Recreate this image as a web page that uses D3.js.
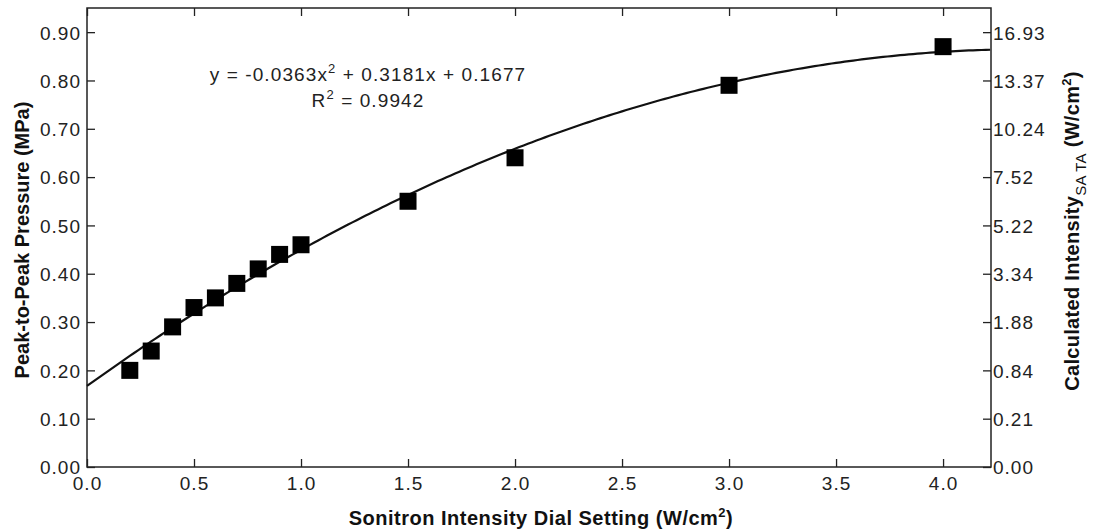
<!DOCTYPE html>
<html>
<head>
<meta charset="utf-8">
<script src="https://cdn.jsdelivr.net/npm/d3@7"></script>
<style>
  html, body { margin: 0; padding: 0; background: #fff; }
  svg { display: block; font-family: Arial, "Liberation Sans", sans-serif; }
</style>
</head>
<body>
<svg id="chart" width="1096" height="531"></svg>
<script>
// Measured peak-to-peak pressure against dial setting
const dialSetting = [0.2, 0.3, 0.4, 0.5, 0.6, 0.7, 0.8, 0.9, 1.0, 1.5, 2.0, 3.0, 4.0];
const pressure    = [0.20, 0.24, 0.29, 0.33, 0.35, 0.38, 0.41, 0.44, 0.46, 0.55, 0.64, 0.79, 0.87];

// Quadratic fit coefficients (a x^2 + b x + c) and goodness of fit
const fitCoeffs = [-0.0363, 0.3181, 0.1677];
const fitR2 = "0.9942";

// Axis ticks
const xTicks = [0.0, 0.5, 1.0, 1.5, 2.0, 2.5, 3.0, 3.5, 4.0];
const yTicks = [0.00, 0.10, 0.20, 0.30, 0.40, 0.50, 0.60, 0.70, 0.80, 0.90];
const intensityLabels = ["0.00", "0.21", "0.84", "1.88", "3.34", "5.22", "7.52", "10.24", "13.37", "16.93"];

const svg = d3.select("#chart");
const plot = { left: 87, right: 991, top: 8, bottom: 467 };

const x = d3.scaleLinear().domain([0, 4.224]).range([plot.left, plot.right]);
const y = d3.scaleLinear().domain([0, 0.95]).range([plot.bottom, plot.top]);

// Frame
svg.append("rect")
  .attr("x", plot.left).attr("y", plot.top)
  .attr("width", plot.right - plot.left).attr("height", plot.bottom - plot.top)
  .attr("fill", "none").attr("stroke", "#222").attr("stroke-width", 1.5);

const tickFont = 19;

// Bottom axis (ticks point inward)
const xAxis = svg.append("g").attr("transform", `translate(0,${plot.bottom})`)
  .call(d3.axisBottom(x).tickValues(xTicks).tickFormat(d3.format(".1f")).tickSizeInner(-8).tickSizeOuter(0).tickPadding(10));
// Top axis ticks only
const xTop = svg.append("g").attr("transform", `translate(0,${plot.top})`)
  .call(d3.axisTop(x).tickValues(xTicks).tickFormat("").tickSizeInner(-8).tickSizeOuter(0));
// Left axis
const yAxis = svg.append("g").attr("transform", `translate(${plot.left},0)`)
  .call(d3.axisLeft(y).tickValues(yTicks).tickFormat(d3.format(".2f")).tickSizeInner(-8).tickSizeOuter(0).tickPadding(6));
// Right axis: calculated intensity at the same pressure levels
const yRight = svg.append("g").attr("transform", `translate(${plot.right},0)`)
  .call(d3.axisRight(y).tickValues(yTicks).tickFormat((d, i) => intensityLabels[i]).tickSizeInner(-8).tickSizeOuter(0).tickPadding(2));

[xAxis, xTop, yAxis, yRight].forEach(g => {
  g.select(".domain").remove();
  g.selectAll(".tick line").attr("stroke", "#222").attr("stroke-width", 1.3);
  g.selectAll(".tick text").attr("font-size", tickFont).attr("fill", "#222")
    .attr("letter-spacing", 1)
    .attr("font-family", "Arial, 'Liberation Sans', sans-serif");
});
yAxis.selectAll(".tick text").attr("dy", "0.36em");
yRight.selectAll(".tick text").attr("dy", "0.36em");
xAxis.selectAll(".tick text").attr("dy", "0.71em");

// Fitted curve
const fit = v => fitCoeffs[0] * v * v + fitCoeffs[1] * v + fitCoeffs[2];
const xs = d3.range(0, 4.224 + 1e-9, 0.02);
svg.append("path")
  .datum(xs)
  .attr("d", d3.line().x(d => x(d)).y(d => y(fit(d))))
  .attr("fill", "none").attr("stroke", "#111").attr("stroke-width", 2.2);

// Data markers
const ms = 17;
svg.append("g").selectAll("rect")
  .data(dialSetting.map((d, i) => [d, pressure[i]]))
  .join("rect")
  .attr("x", d => x(d[0]) - ms / 2)
  .attr("y", d => y(d[1]) - ms / 2)
  .attr("width", ms).attr("height", ms)
  .attr("fill", "#000");

// Fit equation
const eq = svg.append("text").attr("x", 368).attr("y", 81)
  .attr("text-anchor", "middle").attr("font-size", 19).attr("letter-spacing", 1.1).attr("fill", "#222");
eq.append("tspan").text("y = -0.0363x");
eq.append("tspan").attr("dy", -8).attr("font-size", 13).text("2");
eq.append("tspan").attr("dy", 8).text(" + 0.3181x + 0.1677");

const r2 = svg.append("text").attr("x", 368).attr("y", 107)
  .attr("text-anchor", "middle").attr("font-size", 19).attr("letter-spacing", 1.1).attr("fill", "#222");
r2.append("tspan").text("R");
r2.append("tspan").attr("dy", -8).attr("font-size", 13).text("2");
r2.append("tspan").attr("dy", 8).text(" = " + fitR2);

// Axis titles
const xt = svg.append("text").attr("x", 541).attr("y", 525)
  .attr("text-anchor", "middle").attr("font-size", 20).attr("letter-spacing", 0.5)
  .attr("font-weight", "bold").attr("fill", "#111");
xt.append("tspan").text("Sonitron Intensity Dial Setting (W/cm");
xt.append("tspan").attr("dy", -8).attr("font-size", 13).text("2");
xt.append("tspan").attr("dy", 8).text(")");

svg.append("text")
  .attr("transform", "translate(29,240) rotate(-90)")
  .attr("text-anchor", "middle").attr("font-size", 20).attr("font-weight", "bold").attr("fill", "#111")
  .text("Peak-to-Peak Pressure (MPa)");

const yt = svg.append("text")
  .attr("transform", "translate(1079,231) rotate(-90)")
  .attr("text-anchor", "middle").attr("font-size", 20).attr("letter-spacing", 0.3)
  .attr("font-weight", "bold").attr("fill", "#111");
yt.append("tspan").text("Calculated Intensity");
yt.append("tspan").attr("dy", 7).attr("font-size", 15).attr("font-weight", "normal").text("SA TA");
yt.append("tspan").attr("dy", -7).text(" (W/cm");
yt.append("tspan").attr("dy", -8).attr("font-size", 13).text("2");
yt.append("tspan").attr("dy", 8).text(")");
</script>
</body>
</html>
